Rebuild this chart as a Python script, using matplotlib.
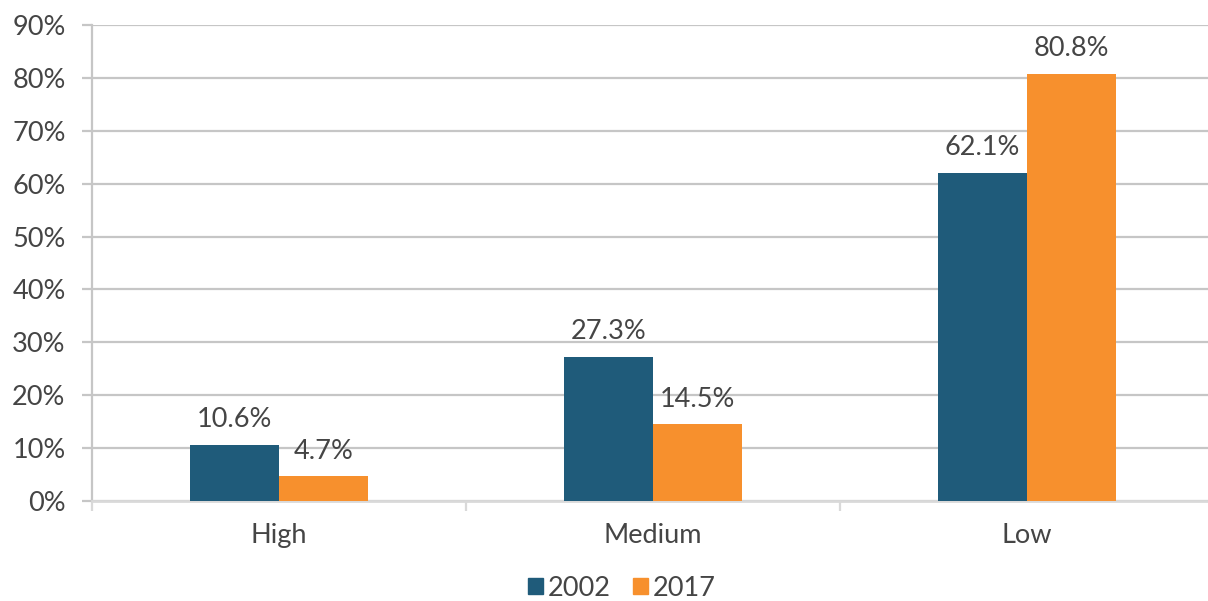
import numpy as np
import matplotlib
matplotlib.use("Agg")
import matplotlib.pyplot as plt
from matplotlib.ticker import PercentFormatter, FixedLocator
from matplotlib.patches import Patch

plt.rcParams["font.family"] = ["Lato", "DejaVu Sans"]

categories = ["High", "Medium", "Low"]
years = ["2002", "2017"]
share_2002 = [10.6, 27.3, 62.1]
share_2017 = [4.7, 14.5, 80.8]

colors = ["#1F5B7A", "#F7902D"]
text_color = "#454545"
grid_color = "#C6C6C6"
fs = 19.5

fig = plt.figure(figsize=(12.08, 6.01), dpi=100)
ax = fig.add_axes([92 / 1208, 100 / 601, 1122 / 1208, 476 / 601])

x = np.arange(len(categories))
w = 0.238
for i, (vals, c) in enumerate(zip([share_2002, share_2017], colors)):
    pos = x + (i - 0.5) * w
    ax.bar(pos, vals, width=w, color=c, zorder=3)
    for p, v in zip(pos, vals):
        ax.annotate(f"{v:.1f}%", (p, v), xytext=(0, 9), textcoords="offset points",
                    ha="center", va="bottom", fontsize=fs, color=text_color)

ax.set_xlim(-0.5, 2.5)
ax.set_ylim(0, 90)
ax.set_yticks(np.arange(0, 91, 10))
ax.yaxis.set_major_formatter(PercentFormatter(decimals=0))
ax.grid(axis="y", color=grid_color, linewidth=1.6, zorder=0)

# category labels at centres, separator ticks between groups
ax.set_xticks(x)
ax.set_xticklabels(categories)
ax.xaxis.set_minor_locator(FixedLocator([-0.5, 0.5, 1.5]))
ax.tick_params(axis="x", which="major", length=0, pad=16, labelsize=fs, labelcolor=text_color)
ax.tick_params(axis="x", which="minor", length=7, width=1.6, color="#D9D9D9")
ax.tick_params(axis="y", length=7, width=1.6, color=grid_color, pad=12,
               labelsize=fs, labelcolor=text_color)

for s in ["top", "right"]:
    ax.spines[s].set_visible(False)
ax.spines["left"].set_color(grid_color)
ax.spines["left"].set_linewidth(1.6)
ax.spines["bottom"].set_color("#D9D9D9")
ax.spines["bottom"].set_linewidth(2)

handles = [Patch(color=c, label=y) for c, y in zip(colors, years)]
fig.legend(handles=handles, loc="center", bbox_to_anchor=(622 / 1208, 1 - 588 / 601),
           ncol=2, frameon=False, fontsize=fs, labelcolor=text_color,
           handlelength=0.55, handleheight=0.55, handletextpad=0.2, columnspacing=0.8)

fig.savefig("out.png", dpi=100)
